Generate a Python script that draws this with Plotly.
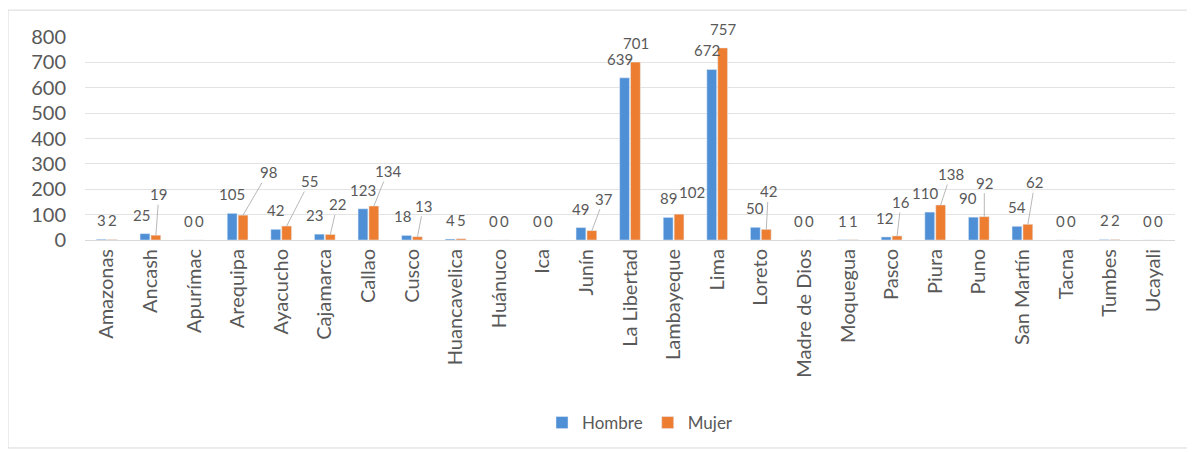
import plotly.graph_objects as go

categories = ["Amazonas", "Ancash", "Apurímac", "Arequipa", "Ayacucho", "Cajamarca", "Callao",
              "Cusco", "Huancavelica", "Huánuco", "Ica", "Junín", "La Libertad", "Lambayeque",
              "Lima", "Loreto", "Madre de Dios", "Moquegua", "Pasco", "Piura", "Puno",
              "San Martín", "Tacna", "Tumbes", "Ucayali"]
hombre = [3, 25, 0, 105, 42, 23, 123, 18, 4, 0, 0, 49, 639, 89, 672, 50, 0, 1, 12, 110, 90, 54, 0, 2, 0]
mujer = [2, 19, 0, 98, 55, 22, 134, 13, 5, 0, 0, 37, 701, 102, 757, 42, 0, 1, 16, 138, 92, 62, 0, 2, 0]
y_ticks = [0, 100, 200, 300, 400, 500, 600, 700, 800]

# label placement offsets (pixels) for Mujer labels with leader lines
mujer_leader = {"Ancash": (3, -41), "Arequipa": (25, -43), "Ayacucho": (23, -45),
                "Cajamarca": (7, -30), "Callao": (14, -35), "Cusco": (6, -31),
                "Junín": (12, -32), "Loreto": (2, -38), "Pasco": (4, -34),
                "Piura": (10, -31), "Puno": (0, -34), "San Martín": (7, -42)}
mujer_plain = {"Lambayeque": (13, 22)}
hombre_shift = {"La Libertad": -5, "Lima": -5, "Piura": -5, "Puno": -5, "Ancash": -3,
                "Cajamarca": -5, "Cusco": -4, "Pasco": -2}

BLUE = "#4F8FD6"
ORANGE = "#ED7D31"
TXT = "#595959"
FONT = "Lato"
LBL = 15

fig = go.Figure()
fig.add_trace(go.Bar(name="Hombre", x=categories, y=hombre, marker_color=BLUE))
fig.add_trace(go.Bar(name="Mujer", x=categories, y=mujer, marker_color=ORANGE))

ann = []
BAR_OFF = 5.5
for c, h, m in zip(categories, hombre, mujer):
    ann.append(dict(x=c, y=h, text=str(h), showarrow=False, xshift=-BAR_OFF + hombre_shift.get(c, 0),
                    yshift=19, font=dict(size=LBL, color=TXT, family=FONT)))
    if c in mujer_leader:
        ax, ay = mujer_leader[c]
        ann.append(dict(x=c, y=m, text=str(m), showarrow=True, arrowhead=0, arrowwidth=0.8,
                        arrowcolor="#A6A6A6", ax=ax, ay=ay, standoff=0, xshift=BAR_OFF,
                        font=dict(size=LBL, color=TXT, family=FONT)))
    else:
        dx, dy = mujer_plain.get(c, (0, 19))
        ann.append(dict(x=c, y=m, text=str(m), showarrow=False, xshift=BAR_OFF + dx,
                        yshift=dy, font=dict(size=LBL, color=TXT, family=FONT)))

# page body has an 8px margin; figure sized to fit the window
OFF = 8
W, H = 1195 - OFF, 452 - OFF
L, R, T, B = 77, 20, 29, 211
pw, ph = W - L - R, H - T - B

def px_x(sx):
    return (sx - OFF - L) / pw

def px_y(sy):
    return (H - B - (sy - OFF)) / ph

fig.update_layout(
    width=W, height=H,
    margin=dict(l=L, r=R, t=T, b=B),
    paper_bgcolor="white", plot_bgcolor="white",
    barmode="group", bargap=0.5, bargroupgap=0.1,
    font=dict(family=FONT, color=TXT),
    annotations=ann,
    showlegend=True,
    legend=dict(orientation="h", x=px_x(640), xanchor="center", y=px_y(423), yanchor="middle",
                font=dict(size=17, color=TXT, family=FONT), itemwidth=30, tracegroupgap=0),
    xaxis=dict(type="category", tickangle=-90, tickfont=dict(size=20, color=TXT, family=FONT),
               showline=True, linecolor="#D9D9D9", linewidth=1, ticks="", showgrid=False),
    yaxis=dict(range=[0, 800], tickvals=y_ticks, tickfont=dict(size=20, color=TXT, family=FONT),
               showgrid=True, gridcolor="#E3E3E3", gridwidth=1, zeroline=False,
               ticklabelstandoff=18, showline=False),
    shapes=[dict(type="rect", xref="paper", yref="paper",
                 x0=px_x(8), x1=px_x(1194), y0=px_y(450), y1=px_y(10),
                 line=dict(color="#D9D9D9", width=1), layer="below")],
)

fig.write_html("out.html")
